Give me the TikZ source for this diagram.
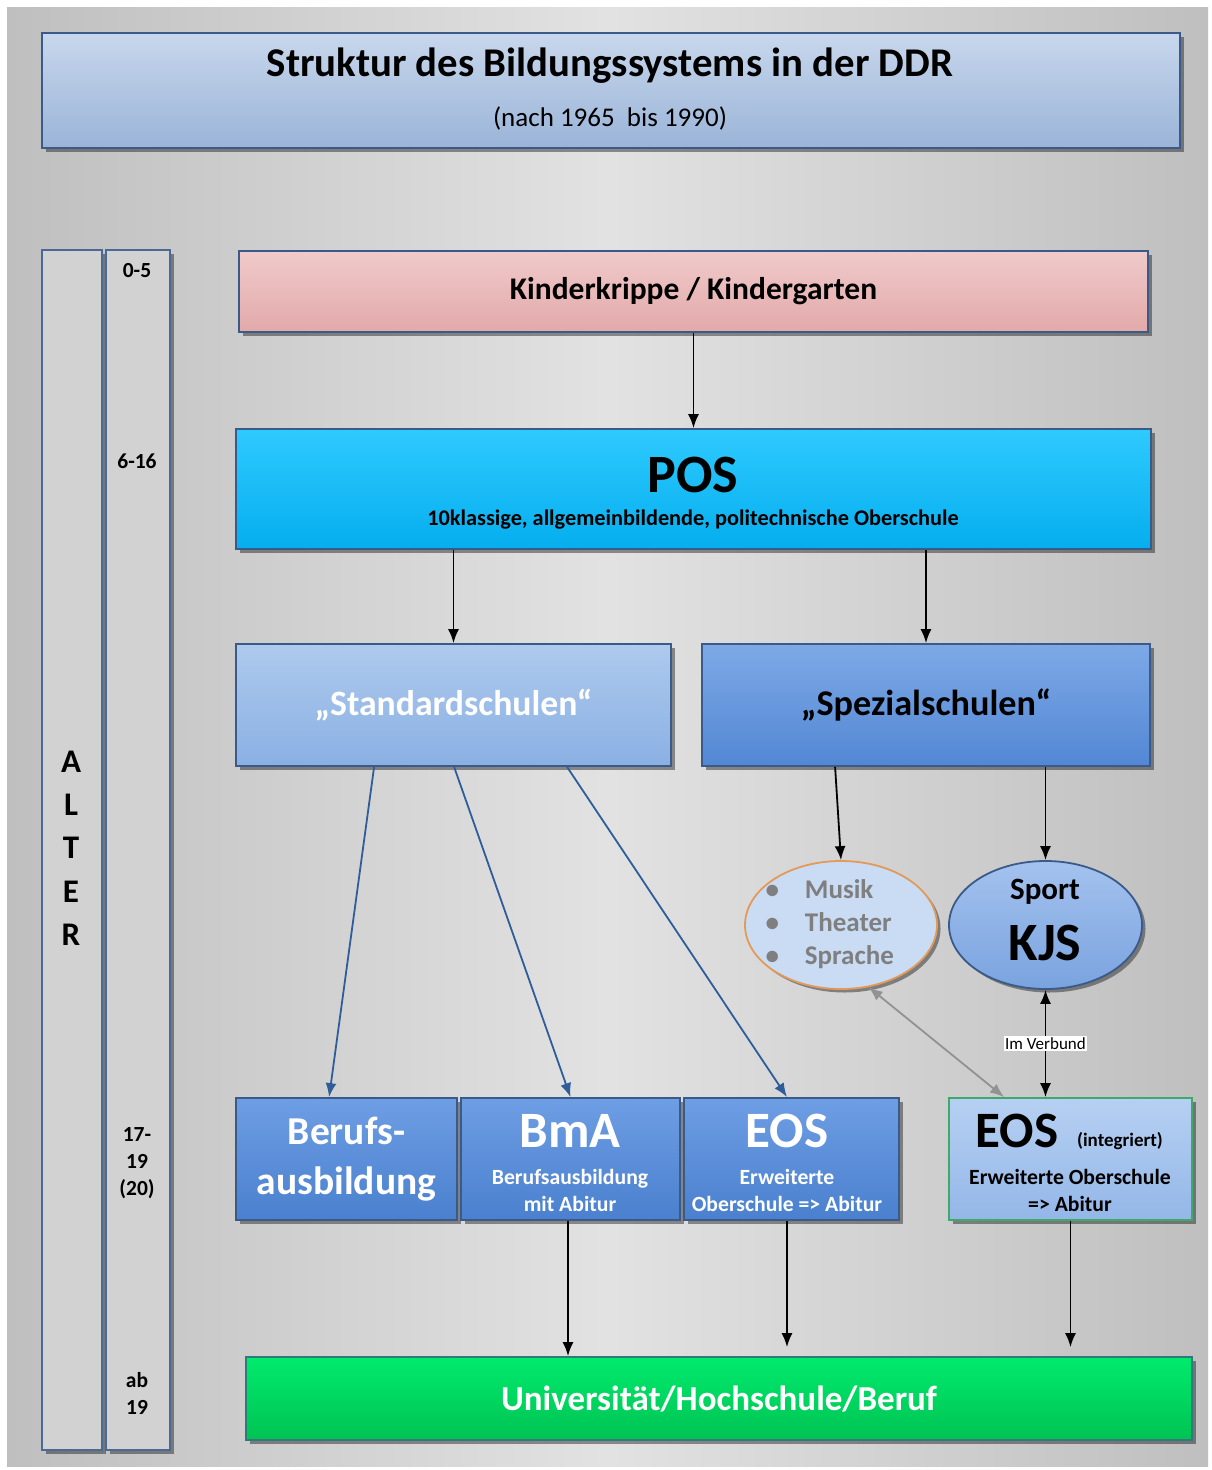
\documentclass[tikz,border=0pt]{standalone}
\usepackage{fontspec}
\setmainfont{Carlito}
\usetikzlibrary{shapes.geometric,shadows,arrows.meta,calc}

\definecolor{bgEdge}{HTML}{BFBFBF}
\definecolor{bgMid}{HTML}{E2E2E2}
\definecolor{frameBlue}{HTML}{3A5A8A}
\definecolor{titleTop}{HTML}{C8D7EC}
\definecolor{titleBot}{HTML}{9AB4D8}
\definecolor{colFill}{HTML}{D2D2D2}
\definecolor{colFrame}{HTML}{4A6A96}
\definecolor{pinkTop}{HTML}{F1CACA}
\definecolor{pinkBot}{HTML}{E2A9AA}
\definecolor{cyanTop}{HTML}{2ECAFF}
\definecolor{cyanBot}{HTML}{05AEEE}
\definecolor{stdTop}{HTML}{AECAEE}
\definecolor{stdBot}{HTML}{8AB0E3}
\definecolor{spzTop}{HTML}{7DA9E6}
\definecolor{spzBot}{HTML}{5387D4}
\definecolor{midTop}{HTML}{6E9EE4}
\definecolor{midBot}{HTML}{4A80CE}
\definecolor{lightTop}{HTML}{B6D0F2}
\definecolor{lightBot}{HTML}{94B7E8}
\definecolor{greenTop}{HTML}{00EA6E}
\definecolor{greenBot}{HTML}{00C352}
\definecolor{greenFrame}{HTML}{2F7A7A}
\definecolor{eosFrame}{HTML}{3DAA6A}
\definecolor{orangeLine}{HTML}{E39A58}
\definecolor{ellLight}{HTML}{C9DCF4}
\definecolor{kjsTop}{HTML}{A4C2EE}
\definecolor{kjsBot}{HTML}{7AA3DF}
\definecolor{linkBlue}{HTML}{2F5D9A}
\definecolor{linkGray}{HTML}{929292}
\definecolor{softGray}{HTML}{7F7F7F}

\newcommand\fsz[2]{\fontsize{#1}{#2}\selectfont}

\begin{document}
\begin{tikzpicture}[x=1pt,y=-1pt,
  shadowed/.style={drop shadow={shadow xshift=3.5pt,shadow yshift=-3.5pt,fill=black,opacity=0.4}},
  panel/.style={draw=frameBlue,line width=1.8pt,inner sep=0pt,shadowed},
  arr/.style={line width=1.8pt,-{Latex[length=14pt,width=11pt]}},
  barr/.style={arr,draw=linkBlue},
  twoway/.style={line width=1.8pt,{Latex[length=14pt,width=11pt]}-{Latex[length=14pt,width=11pt]}},
  whitetext/.style={text=white,font=\bfseries}
]
\useasboundingbox (0,0) rectangle (1211,1470);
\fill[white] (0,0) rectangle (1211,1470);
\shade[left color=bgEdge,right color=bgEdge,middle color=bgMid] (7,7) rectangle (1208,1466);

% heading
\node[panel,top color=titleTop,bottom color=titleBot,minimum width=1138pt,minimum height=115pt] (title) at (611,90.5) {};
\node[font=\bfseries\fsz{40.8}{48}] (titletext) at (610,66) {Struktur des Bildungssystems in der DDR};
\node[font=\fsz{27}{32}] (subtitle) at (610,118) {(nach 1965\ \ bis 1990)};

% age columns
\node[panel,draw=colFrame,fill=colFill,minimum width=60pt,minimum height=1200pt] (alter) at (72,850) {};
\node[panel,draw=colFrame,fill=colFill,minimum width=64pt,minimum height=1200pt] (ages) at (138,850) {};
\node[font=\bfseries\fsz{33}{43.3},align=center] (alterword) at (71,848) {A\\L\\T\\E\\R};
\node[font=\bfseries\fsz{21.5}{27}] (age1) at (137,271) {0-5};
\node[font=\bfseries\fsz{21.5}{27}] (age2) at (137,461) {6-16};
\node[font=\bfseries\fsz{21.5}{27},align=center] (age3) at (137,1163) {17-\\19\\(20)};
\node[font=\bfseries\fsz{21.5}{27},align=center] (age4) at (137,1393) {ab\\19};

% pre-school
\node[panel,top color=pinkTop,bottom color=pinkBot,minimum width=909pt,minimum height=81pt,
      font=\bfseries\fsz{31.5}{36}] (kk) at (693.5,291.5) {Kinderkrippe / Kindergarten};

% POS
\node[panel,top color=cyanTop,bottom color=cyanBot,minimum width=915pt,minimum height=120pt] (pos) at (693.5,489) {};
\node[font=\bfseries\fsz{54}{60}] (postitle) at (693,475) {POS};
\node[font=\bfseries\fsz{22.3}{26}] (possub) at (693,520) {10klassige, allgemeinbildende, politechnische Oberschule};

% school types
\node[panel,top color=stdTop,bottom color=stdBot,minimum width=435pt,minimum height=122pt,
      text=white,font=\bfseries\fsz{35.7}{40}] (std) at (453.5,705) {„Standardschulen“};
\node[panel,top color=spzTop,bottom color=spzBot,minimum width=448pt,minimum height=122pt,
      font=\bfseries\fsz{36.2}{40}] (spz) at (926,705) {„Spezialschulen“};

% special schools
\node[ellipse,draw=orangeLine,line width=1.8pt,fill=ellLight,shadowed,minimum width=192pt,minimum height=128pt] (arts) at (841,925) {};
\node[anchor=west,text=softGray,font=\bfseries\fsz{27}{33}] (artslist) at (762,925)
  {\begin{tabular}{@{}l@{\hspace{26pt}}l@{}}\textbullet & Musik\\ \textbullet & Theater\\ \textbullet & Sprache\end{tabular}};
\node[ellipse,draw=frameBlue,line width=1.8pt,top color=kjsTop,bottom color=kjsBot,shadowed,minimum width=193pt,minimum height=128pt] (kjsell) at (1045.5,925) {};
\node[font=\bfseries\fsz{31}{36}] (sport) at (1045,892) {Sport};
\node[font=\bfseries\fsz{54}{60}] (kjs) at (1045,943) {KJS};

% upper secondary
\node[panel,top color=midTop,bottom color=midBot,minimum width=221pt,minimum height=122pt,
      whitetext,font=\bfseries\fsz{39.5}{50},align=center] (ber) at (346.5,1159) {Berufs-\\ausbildung};
\node[panel,top color=midTop,bottom color=midBot,minimum width=219pt,minimum height=122pt] (bma) at (570.5,1159) {};
\node[whitetext,font=\bfseries\fsz{51}{56}] (bmatitle) at (570,1131) {BmA};
\node[whitetext,font=\bfseries\fsz{21.7}{27},align=center] (bmasub) at (570,1190.5) {Berufsausbildung\\mit Abitur};
\node[panel,top color=midTop,bottom color=midBot,minimum width=215pt,minimum height=122pt] (eos) at (791.5,1159) {};
\node[whitetext,font=\bfseries\fsz{51}{56}] (eostitle) at (787,1131) {EOS};
\node[whitetext,font=\bfseries\fsz{21.7}{27},align=center] (eossub) at (787,1190.5) {Erweiterte\\Oberschule => Abitur};
\node[panel,draw=eosFrame,top color=lightTop,bottom color=lightBot,minimum width=243pt,minimum height=122pt] (eosi) at (1070.5,1159) {};
\node[font=\bfseries\fsz{51}{56}] (eosititle) at (1017,1131) {EOS};
\node[font=\bfseries\fsz{19}{22}] (eosinote) at (1120,1141) {(integriert)};
\node[font=\bfseries\fsz{21.7}{27},align=center] (eosisub) at (1070,1190.5) {Erweiterte Oberschule\\=> Abitur};

% higher education
\node[panel,draw=greenFrame,top color=greenTop,bottom color=greenBot,minimum width=946pt,minimum height=83pt,
      whitetext,font=\bfseries\fsz{35}{40}] (uni) at (719,1398.5) {Universität/Hochschule/Beruf};

% connectors
\draw[arr] (kk.south) -- (pos.north);
\draw[arr] (pos.south -| std.north) -- (std.north);
\draw[arr] (pos.south -| spz.north) -- (spz.north);
\draw[barr] ($(std.south west)+(139,0)$) -- ($(ber.north west)+(94,0)$);
\draw[barr] ($(std.south west)+(219,0)$) -- (bma.north);
\draw[barr] ($(std.south west)+(332,0)$) -- ($(eos.north)+(-4.5,0)$);
\draw[arr] ($(spz.south west)+(134,0)$) -- (arts.north);
\draw[arr] (spz.south -| kjsell.north) -- (kjsell.north);
\draw[twoway,draw=linkGray] (arts.-66) -- ($(eosi.north west)+(56,0)$);
\draw[twoway] (kjsell.south) -- (eosi.north -| kjsell.south)
  node[midway,fill=white,inner sep=1.5pt,font=\fsz{17}{20}] (verbund) {Im Verbund};
\draw[arr] ($(bma.south)+(-2.5,0)$) -- ($(uni.north)!(bma.south)!(uni.north east)+(-2.5,0)$);
\draw[arr,shorten >=9pt] ($(eos.south)+(-4.5,0)$) -- ($(uni.north)!(eos.south)!(uni.north east)+(-4.5,0)$);
\draw[arr,shorten >=9pt] (eosi.south) -- (eosi.south |- uni.north);
\end{tikzpicture}
\end{document}
